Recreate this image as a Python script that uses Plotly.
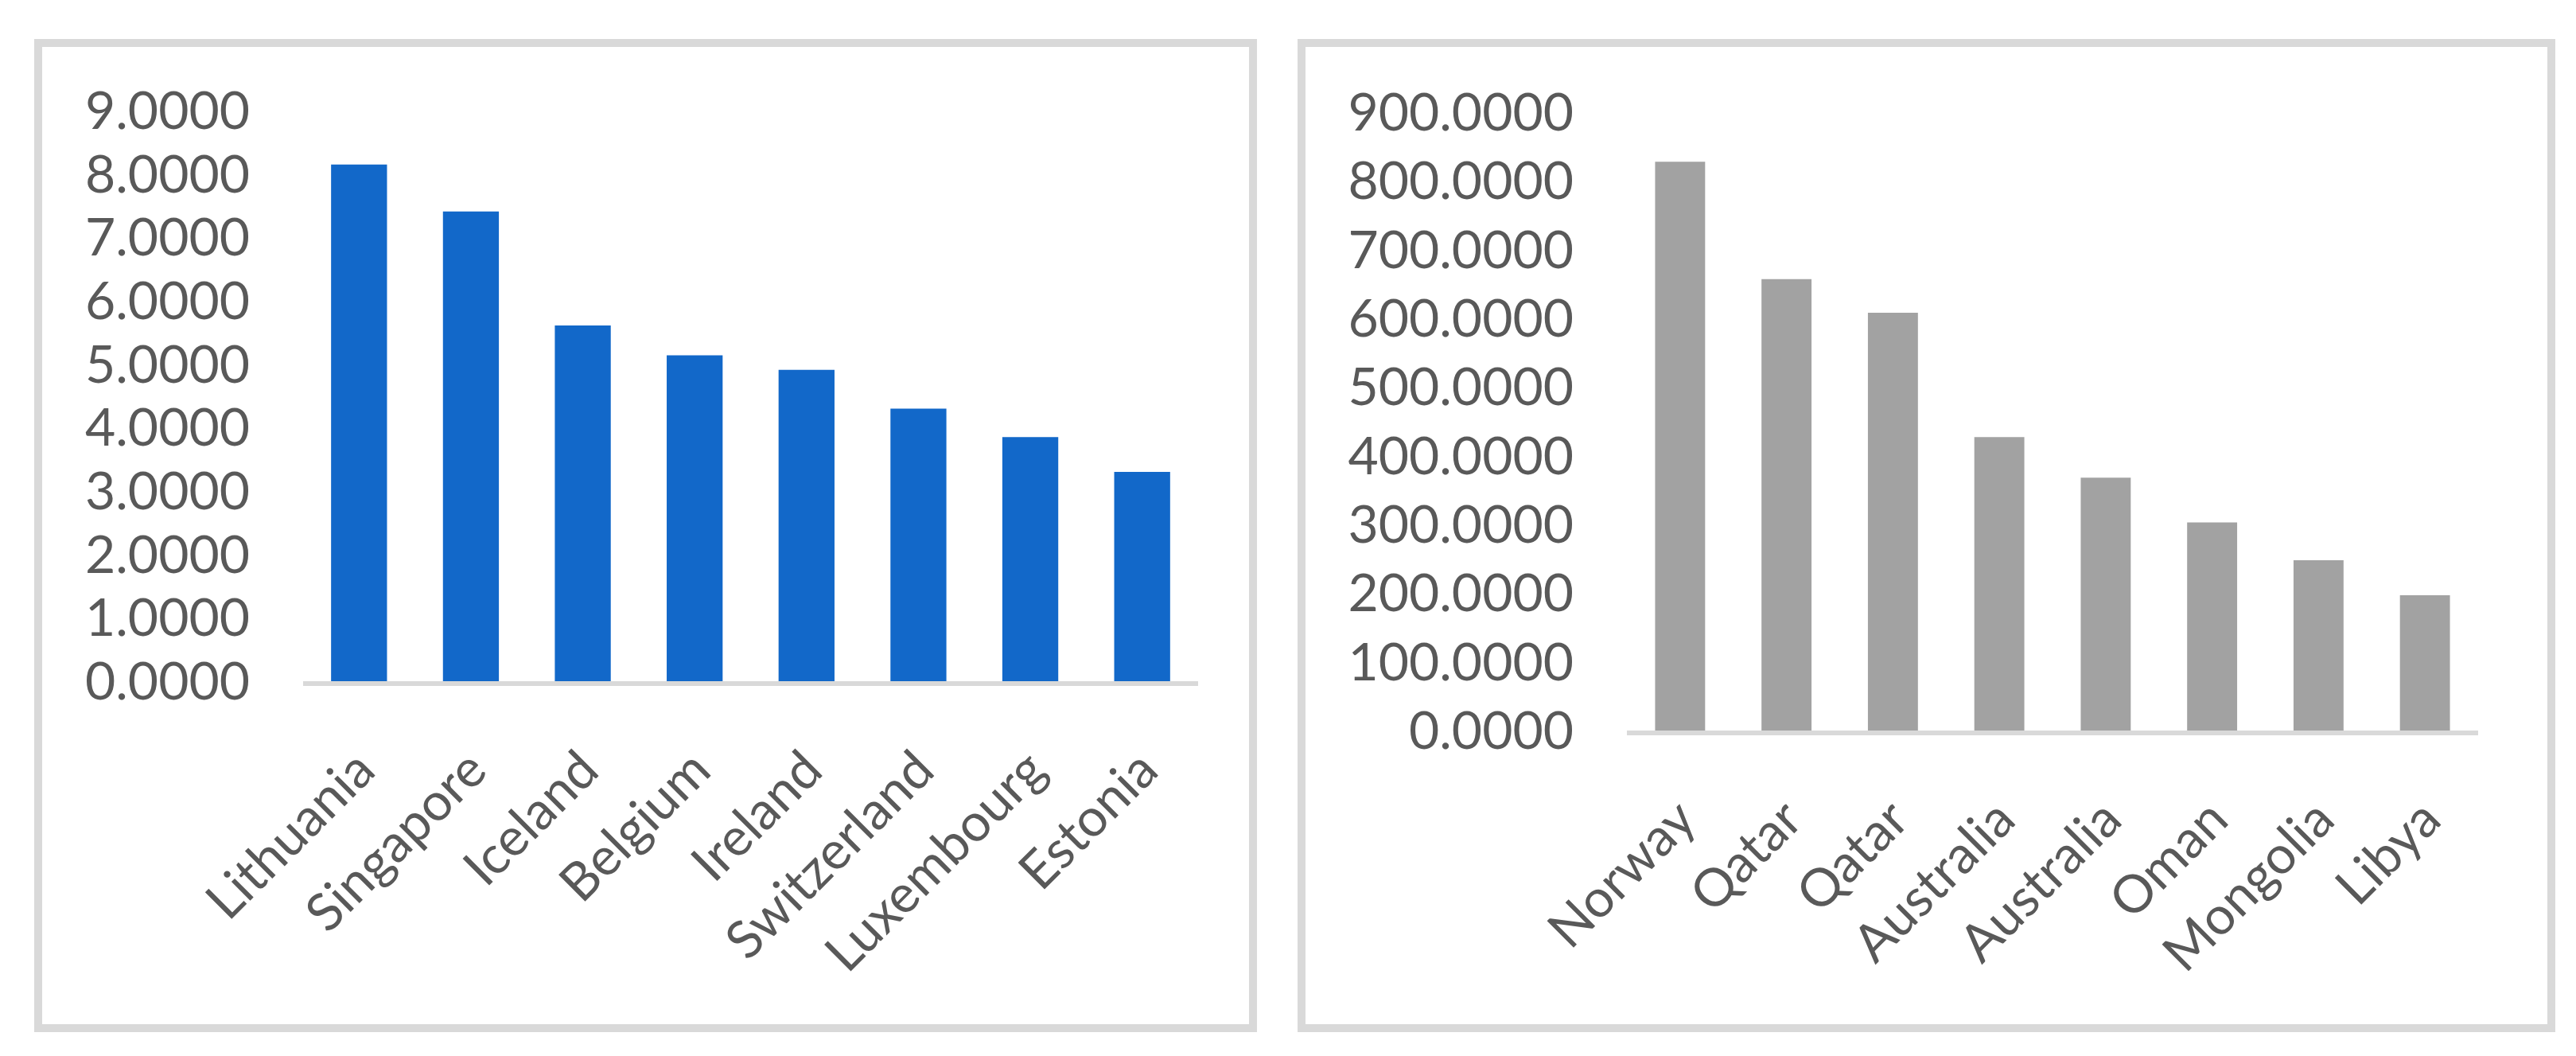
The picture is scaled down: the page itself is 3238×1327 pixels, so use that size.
import plotly.graph_objects as go

# values
left_countries = ["Lithuania", "Singapore", "Iceland", "Belgium", "Ireland",
                  "Switzerland", "Luxembourg", "Estonia"]
left_values = [8.15, 7.41, 5.61, 5.14, 4.91, 4.30, 3.85, 3.30]

right_countries = ["Norway", "Qatar", "Qatar", "Australia", "Australia",
                   "Oman", "Mongolia", "Libya"]
right_values = [828, 657, 608, 427, 368, 303, 248, 197]

left_ticks = [0, 1, 2, 3, 4, 5, 6, 7, 8, 9]
right_ticks = [0, 100, 200, 300, 400, 500, 600, 700, 800, 900]

W, H = 3238, 1327
FONT = "Lato"
TXT = "#595959"
BORDER = "#d9d9d9"


def px(x):
    return x / W


def py(y):
    return 1 - y / H


pos = list(range(len(left_countries)))

fig = go.Figure()

fig.add_trace(go.Bar(x=pos, y=left_values, width=0.5,
                     marker=dict(color="#1268c9", line=dict(width=0)),
                     xaxis="x", yaxis="y", showlegend=False))
fig.add_trace(go.Bar(x=pos, y=right_values, width=0.47,
                     marker=dict(color="#a2a2a2", line=dict(width=0)),
                     xaxis="x2", yaxis="y2", showlegend=False))

tickfont = dict(family=FONT, size=66, color=TXT)

xcommon = dict(tickmode="array", tickvals=pos, range=[-0.5, 7.5],
               tickangle=-45, tickfont=tickfont, showgrid=False,
               zeroline=False, showline=True, linecolor=BORDER, linewidth=6,
               ticks="", ticklabelstandoff=40, fixedrange=True,
               automargin=False)
ycommon = dict(tickfont=tickfont, showgrid=False, zeroline=False,
               showline=False, ticks="", ticklabelstandoff=66,
               tickformat=".4f", tickmode="array", fixedrange=True,
               automargin=False)

fig.update_layout(
    width=W, height=H, autosize=False,
    margin=dict(l=0, r=0, t=0, b=0, pad=0, autoexpand=False),
    paper_bgcolor="white", plot_bgcolor="white",
    xaxis=dict(xcommon, domain=[px(373), px(1498)], ticktext=left_countries,
               anchor="y"),
    yaxis=dict(ycommon, domain=[py(848), py(131)], range=[0, 9],
               tickvals=left_ticks, anchor="x"),
    xaxis2=dict(xcommon, domain=[px(2037), px(3107)], ticktext=right_countries,
                anchor="y2"),
    yaxis2=dict(ycommon, domain=[py(910), py(133)], range=[0, 900],
                tickvals=right_ticks, anchor="x2"),
    shapes=[
        dict(type="rect", xref="paper", yref="paper",
             x0=px(40), x1=px(1567), y0=py(1284), y1=py(46),
             line=dict(color=BORDER, width=10), layer="below"),
        dict(type="rect", xref="paper", yref="paper",
             x0=px(1628), x1=px(3199), y0=py(1284), y1=py(46),
             line=dict(color=BORDER, width=10), layer="below"),
    ],
)

fig.write_html("out.html")
